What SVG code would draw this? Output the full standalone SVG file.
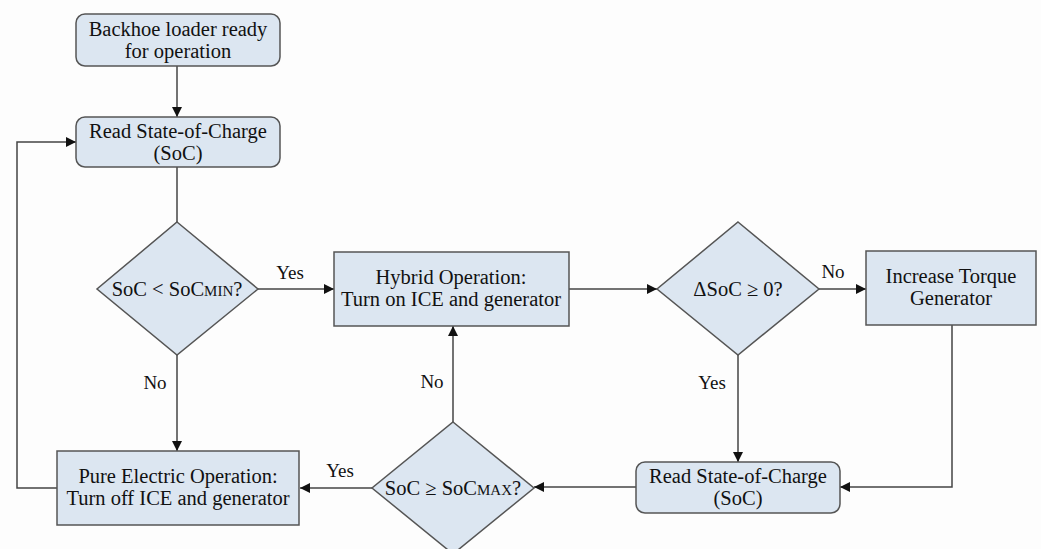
<svg xmlns="http://www.w3.org/2000/svg" width="1041" height="549" viewBox="0 0 1041 549">
<defs>
<marker id="arr" viewBox="0 0 10 10" refX="10" refY="5" markerWidth="10" markerHeight="10" markerUnits="userSpaceOnUse" orient="auto">
<path d="M0,0 L10,5 L0,10 z" fill="#111"/>
</marker>
</defs>
<style>
.box{fill:#dce6f1;stroke:#555;stroke-width:1.5}
text{font-family:'Liberation Serif','DejaVu Serif',serif;fill:#111;text-anchor:middle}
.t{font-size:20.5px}
.lbl{font-size:19px}
.c{fill:none;stroke:#444;stroke-width:1.5}
.sub{font-size:15px}
</style>
<rect width="1041" height="549" fill="#fdfdfd"/>
<g id="connectors">
<path class="c" d="M177,66 V117" marker-end="url(#arr)"/>
<path class="c" d="M177,167 V222" />
<path class="c" d="M258,289 H334" marker-end="url(#arr)"/>
<path class="c" d="M569,289 H657" marker-end="url(#arr)"/>
<path class="c" d="M819,289 H866" marker-end="url(#arr)"/>
<path class="c" d="M952,325 V487 H840" marker-end="url(#arr)"/>
<path class="c" d="M738,355 V462" marker-end="url(#arr)"/>
<path class="c" d="M636,487 H534" marker-end="url(#arr)"/>
<path class="c" d="M453,422 V326" marker-end="url(#arr)"/>
<path class="c" d="M372,488 H300" marker-end="url(#arr)"/>
<path class="c" d="M177,355 V451" marker-end="url(#arr)"/>
<path class="c" d="M57,488 H17 V142 H76" marker-end="url(#arr)"/>
<text class="lbl" x="290" y="279">Yes</text>
<text class="lbl" x="833" y="278">No</text>
<text class="lbl" x="712" y="389">Yes</text>
<text class="lbl" x="432" y="388">No</text>
<text class="lbl" x="340" y="477">Yes</text>
<text class="lbl" x="155" y="389">No</text>
</g>
<g id="start">
<rect class="box" x="76" y="14" width="204" height="52" rx="9"/>
<text class="t" x="178" y="36">Backhoe loader ready</text>
<text class="t" x="178" y="58">for operation</text>
</g>
<g id="read1">
<rect class="box" x="76" y="117" width="204" height="50" rx="9"/>
<text class="t" x="178" y="138">Read State-of-Charge</text>
<text class="t" x="178" y="160">(SoC)</text>
</g>
<g id="dec-min">
<polygon class="box" points="177,222 258,289 177,355 97,289"/>
<text class="t" x="177" y="296">SoC &lt; SoC<tspan class="sub">MIN</tspan>?</text>
</g>
<g id="hybrid">
<rect class="box" x="334" y="252" width="235" height="74"/>
<text class="t" x="451" y="284">Hybrid Operation:</text>
<text class="t" x="451" y="306">Turn on ICE and generator</text>
</g>
<g id="dec-delta">
<polygon class="box" points="738,222 819,289 738,355 657,289"/>
<text class="t" x="738" y="296">ΔSoC ≥ 0?</text>
</g>
<g id="torque">
<rect class="box" x="866" y="251" width="170" height="74"/>
<text class="t" x="951" y="283">Increase Torque</text>
<text class="t" x="951" y="305">Generator</text>
</g>
<g id="read2">
<rect class="box" x="636" y="462" width="204" height="51" rx="9"/>
<text class="t" x="738" y="483">Read State-of-Charge</text>
<text class="t" x="738" y="505">(SoC)</text>
</g>
<g id="dec-max">
<polygon class="box" points="453,422 534,488 453,554 372,488"/>
<text class="t" x="453" y="495">SoC ≥ SoC<tspan class="sub">MAX</tspan>?</text>
</g>
<g id="electric">
<rect class="box" x="57" y="451" width="242" height="74"/>
<text class="t" x="178" y="483">Pure Electric Operation:</text>
<text class="t" x="178" y="505">Turn off ICE and generator</text>
</g>
</svg>
